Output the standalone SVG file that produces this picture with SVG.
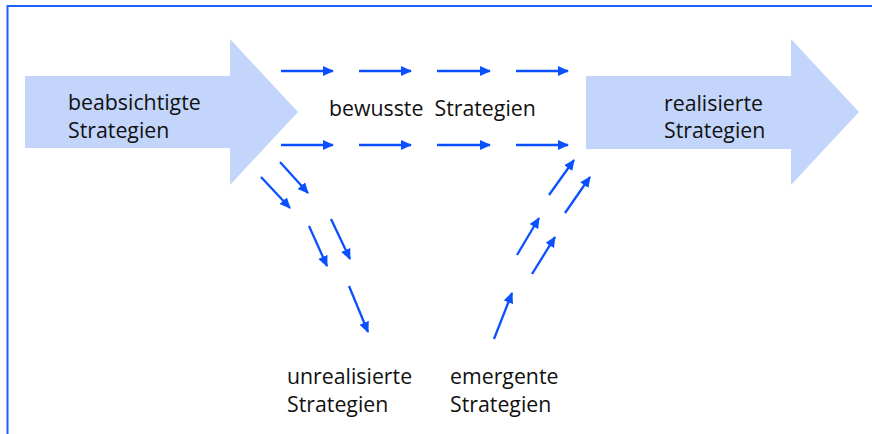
<svg xmlns="http://www.w3.org/2000/svg" width="872" height="434" viewBox="0 0 872 434">
<style>
.big{fill:#c3d5fb;stroke:none}
.lbl{font-family:"Open Sans","Liberation Sans",sans-serif;font-size:21.3px;fill:#111}
.c line{stroke:#0a50ff;stroke-width:2.3;marker-end:url(#ah)}
</style>
<defs>
<marker id="ah" markerUnits="userSpaceOnUse" markerWidth="13" markerHeight="11" refX="10" refY="5" orient="auto">
<path d="M0,0 L11,5 L0,10 z" fill="#0a50ff"/>
</marker>
</defs>
<rect width="872" height="434" fill="#fff"/>
<polyline points="7.5,434 7.5,6 872,6" fill="none" stroke="#1f5fff" stroke-width="2"/>
<g id="beabsichtigte">
<polygon class="big" points="25,76 230,76 230,39 298,112 230,185 230,148 25,148"/>
<text class="lbl" x="68" y="110">beabsichtigte</text>
<text class="lbl" x="68" y="138">Strategien</text>
</g>
<g id="realisierte">
<polygon class="big" points="586,76 791,76 791,39 859,112 791,185 791,149 586,149"/>
<text class="lbl" x="664" y="111">realisierte</text>
<text class="lbl" x="664" y="138">Strategien</text>
</g>
<g id="bewusste">
<text class="lbl" x="329" y="116" xml:space="preserve">bewusste  Strategien</text>
</g>
<g id="unrealisierte">
<text class="lbl" x="287" y="384">unrealisierte</text>
<text class="lbl" x="287" y="412">Strategien</text>
</g>
<g id="emergente">
<text class="lbl" x="450" y="384">emergente</text>
<text class="lbl" x="450" y="412">Strategien</text>
</g>
<g class="c" id="connectors">
<line x1="281" y1="71" x2="333" y2="71"/>
<line x1="359" y1="71" x2="411" y2="71"/>
<line x1="437" y1="71" x2="490" y2="71"/>
<line x1="516" y1="71" x2="568" y2="71"/>
<line x1="281" y1="145" x2="333" y2="145"/>
<line x1="359" y1="145" x2="411" y2="145"/>
<line x1="437" y1="145" x2="490" y2="145"/>
<line x1="516" y1="145" x2="568" y2="145"/>
<line x1="280" y1="162" x2="308" y2="193"/>
<line x1="261" y1="177" x2="290" y2="208"/>
<line x1="309" y1="226" x2="327" y2="266"/>
<line x1="331" y1="219" x2="350" y2="259"/>
<line x1="349" y1="286" x2="368" y2="332"/>
<line x1="549" y1="195" x2="574" y2="160"/>
<line x1="565" y1="213" x2="590" y2="177"/>
<line x1="517" y1="255" x2="539" y2="218"/>
<line x1="532" y1="274" x2="555" y2="237"/>
<line x1="494" y1="339" x2="512" y2="293"/>
</g>
</svg>
